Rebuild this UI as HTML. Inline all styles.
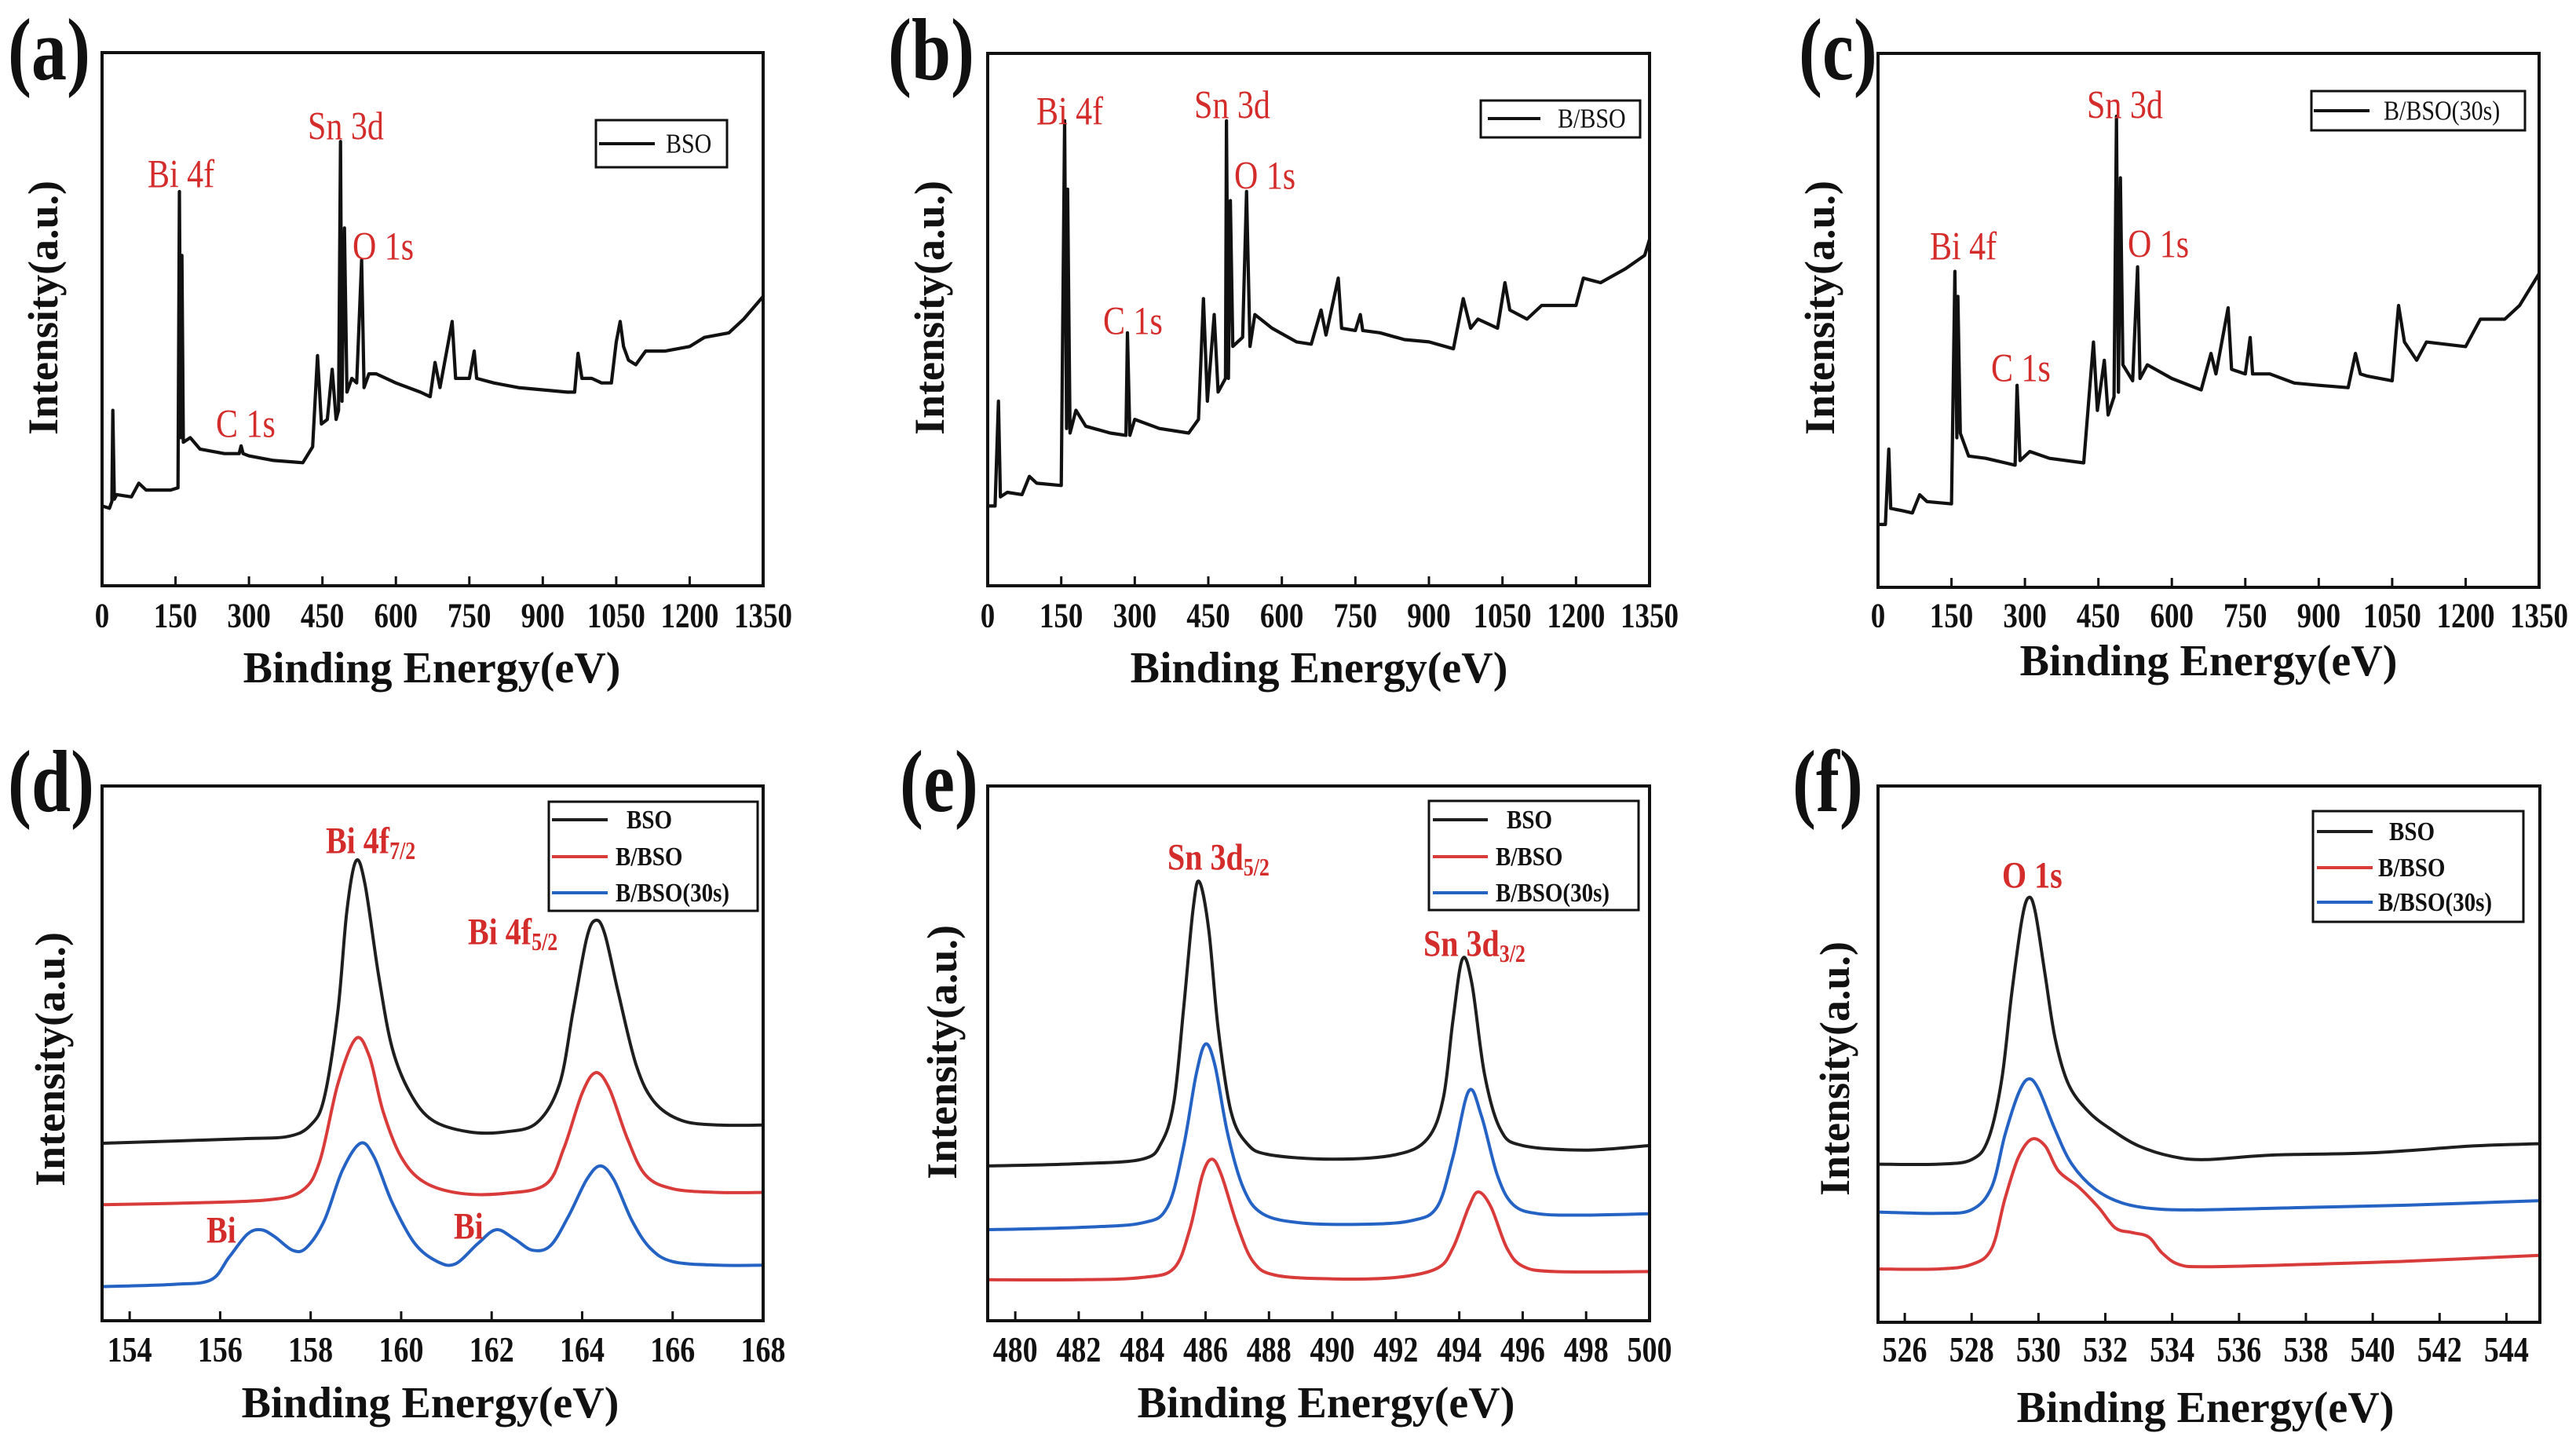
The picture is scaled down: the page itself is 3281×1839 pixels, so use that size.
<!DOCTYPE html>
<html><head><meta charset="utf-8"><style>
html,body{margin:0;padding:0;background:#fff;}
svg{display:block;font-family:"Liberation Serif",serif;}
</style></head><body>
<svg id="fig" width="3281" height="1839" viewBox="0 0 3281 1839" xmlns="http://www.w3.org/2000/svg"></svg>
<script>
// ---- survey data (energy eV, intensity a.u.) ----
const aE=[0,15,20,22,25,30,60,75,90,140,155,158,161,163,166,180,200,250,280,284,288,300,350,410,430,440,448,460,470,478,483,487,490,495,500,510,520,530,535,545,560,600,650,670,680,690,715,722,750,760,765,800,850,900,950,965,972,980,1000,1020,1040,1050,1058,1065,1075,1090,1110,1150,1200,1230,1280,1310,1350];
const aI=[175,170,185,385,190,200,195,225,210,210,215,865,325,725,315,325,300,290,290,307,290,285,275,270,305,505,355,365,475,365,385,975,405,785,425,455,445,715,435,465,465,445,425,415,490,435,580,455,455,515,455,445,435,430,425,425,510,455,455,445,445,535,580,525,495,485,515,515,525,545,555,585,635];
const bE=[0,15,22,26,40,70,85,100,150,157,161,163,168,180,200,250,282,285,290,300,350,410,430,440,448,462,470,485,487,491,495,500,520,528,535,545,580,630,660,680,690,715,722,750,760,765,800,850,900,950,970,985,1000,1040,1055,1065,1100,1130,1200,1215,1250,1300,1340,1350];
const bI=[175,175,405,195,205,200,240,225,220,1020,345,870,335,385,350,335,330,555,330,365,345,335,365,630,405,595,425,455,1020,455,845,525,545,865,525,595,565,535,530,605,550,675,565,560,595,560,555,540,535,520,630,565,585,565,665,605,585,615,615,675,665,695,725,760];
const cE=[0,15,22,26,50,70,85,100,150,157,161,163,168,185,220,260,280,284,290,310,350,420,440,448,462,470,482,487,491,495,500,520,530,535,550,600,660,680,690,715,722,750,760,765,800,850,900,960,975,985,1000,1050,1058,1063,1075,1100,1120,1200,1230,1280,1310,1350];
const cI=[138,138,303,173,168,163,203,188,183,693,328,638,338,288,283,273,268,443,278,298,283,273,538,388,498,378,418,1033,428,898,488,453,703,458,488,458,433,513,468,613,478,468,548,468,468,448,443,438,513,468,463,453,558,618,538,498,538,528,588,588,618,688];
// ---- Bi 4f ----
const dBsoE=[153.4,155,156.5,157.5,158,158.3,158.6,158.8,159.0,159.2,159.5,159.8,160.2,160.7,161.5,162.3,163,163.5,163.8,164.1,164.3,164.5,164.8,165.2,165.6,166.2,167,168];
const dBsoI=[390,395,400,405,430,490,680,900,1010,960,760,600,500,440,415,415,435,520,680,840,880,850,720,560,480,440,430,430];
const dBbsoE=[153.4,155,157,157.8,158.2,158.6,159.0,159.3,159.6,160,160.5,161.3,162.3,163.2,163.6,164,164.3,164.6,165,165.4,166,167,168];
const dBbsoI=[255,258,265,285,350,520,620,580,460,360,305,280,280,300,380,500,545,510,400,320,290,282,282];
const dB30E=[153.4,155,155.8,156.2,156.6,156.9,157.2,157.6,157.9,158.3,158.7,159.1,159.4,159.8,160.3,160.8,161.2,161.7,162.1,162.5,162.9,163.3,163.7,164.1,164.4,164.7,165.1,165.5,166,167,168];
const dB30I=[75,80,90,140,190,200,185,155,160,220,330,390,360,260,170,130,125,170,200,180,155,165,230,310,340,310,220,160,130,122,122];
// ---- Sn 3d ----
const eBsoE=[479.1,482,484,484.6,485.0,485.3,485.6,485.8,486.1,486.4,486.8,487.3,488,490,492,493,493.5,493.8,494.1,494.4,494.8,495.3,496,498,500];
const eBsoI=[340,345,355,390,480,680,900,965,860,640,460,390,365,355,365,400,490,660,795,740,540,420,385,375,385];
const eB30E=[479.1,482,484,484.8,485.3,485.7,486.0,486.3,486.7,487.2,487.8,489,491,492.5,493.3,493.8,494.3,494.7,495.2,495.7,496.5,498,500];
const eB30I=[200,205,215,250,380,540,608,560,410,290,235,215,212,220,250,360,505,450,320,255,235,232,235];
const eBbsoE=[479.1,482,484,485,485.5,485.9,486.2,486.5,487,487.5,488.2,490,492,493.3,493.8,494.3,494.6,495,495.5,496,497,500];
const eBbsoI=[90,90,95,115,200,320,355,320,210,130,100,92,95,115,160,250,283,250,160,120,108,108];
// ---- O 1s ----
const fBsoE=[525.2,527,528,528.5,528.9,529.2,529.5,529.7,529.9,530.2,530.5,530.9,531.5,532.2,533,534,535,537,540,543,545];
const fBsoI=[347,347,357,402,532,722,882,932,902,762,622,522,462,422,387,364,357,367,372,387,392];
const fB30E=[525.2,527,528,528.6,529.0,529.4,529.7,530.0,530.5,531,531.7,532.5,533.5,535,538,541,545];
const fB30I=[242,239,247,297,412,502,534,512,422,347,292,262,249,247,252,257,267];
const fBbsoE=[525.2,527,528,528.6,529.0,529.4,529.8,530.2,530.6,531.2,531.8,532.3,532.8,533.3,533.7,534.2,535,538,541,545];
const fBbsoI=[117,117,127,162,272,362,402,387,332,297,252,207,197,187,152,127,122,127,134,147];
// ---- tick labels ----
const surveyTicks=[0,150,300,450,600,750,900,1050,1200,1350];
const biTicks=[154,156,158,160,162,164,166,168];
const snTicks=[480,482,484,486,488,490,492,494,496,498,500];
const oTicks=[526,528,530,532,534,536,538,540,542,544];

const NS='http://www.w3.org/2000/svg';
const svg=document.getElementById('fig');
const BLACK='#1e1e1e',RED='#d93a3a',BLUE='#2462c4',LRED='#d42b2b';
function mk(tag,parent){const e=document.createElementNS(NS,tag);parent.appendChild(e);return e;}
function txt(parent,x,y,s,size,opts){
  const t=mk('text',parent);
  t.setAttribute('x',x);t.setAttribute('y',y);
  t.setAttribute('font-size',size);
  t.setAttribute('dominant-baseline','central');
  t.setAttribute('text-anchor',opts.anchor||'middle');
  t.setAttribute('fill',opts.fill||'#111');
  if(opts.bold)t.setAttribute('font-weight','bold');
  if(opts.rot)t.setAttribute('transform','rotate(-90 '+x+' '+y+')');
  if(opts.sy)t.setAttribute('transform','translate(0 '+y+') scale(1 '+opts.sy+') translate(0 '+(-y)+')');
  t.textContent=s;return t;
}
function smoothPath(pts){
  let d='M'+pts[0][0].toFixed(1)+' '+pts[0][1].toFixed(1);
  for(let i=0;i<pts.length-1;i++){
    const p0=pts[i-1]||pts[i],p1=pts[i],p2=pts[i+1],p3=pts[i+2]||p2;
    const c1x=p1[0]+(p2[0]-p0[0])/6,c1y=p1[1]+(p2[1]-p0[1])/6;
    const c2x=p2[0]-(p3[0]-p1[0])/6,c2y=p2[1]-(p3[1]-p1[1])/6;
    d+='C'+c1x.toFixed(1)+' '+c1y.toFixed(1)+' '+c2x.toFixed(1)+' '+c2y.toFixed(1)+' '+p2[0].toFixed(1)+' '+p2[1].toFixed(1);
  }
  return d;
}
function panel(p){
  const g=mk('g',svg);
  
  
  const sx=v=>p.L+(v-p.xmin)/(p.xmax-p.xmin)*(p.R-p.L);
  const sy=v=>p.B-v/p.ymax*(p.B-p.T);
  p.series.forEach(s=>{
    const path=mk('path',g);
    
    
    const pts=s.E.map((e,i)=>[sx(e),sy(s.I[i])]);
    let d='';
    if(p.smooth){d=smoothPath(pts);}
    else{pts.forEach((q,i)=>{d+=(i?'L':'M')+q[0].toFixed(1)+' '+q[1].toFixed(1);});}
    path.setAttribute('d',d);path.setAttribute('fill','none');
    path.setAttribute('stroke',s.color);path.setAttribute('stroke-width',p.lw);
    path.setAttribute('stroke-linejoin','round');
  });
  const r=mk('rect',g);
  
  
  r.setAttribute('x',p.L);r.setAttribute('y',p.T);r.setAttribute('width',p.R-p.L);r.setAttribute('height',p.B-p.T);
  r.setAttribute('fill','none');r.setAttribute('stroke','#111');r.setAttribute('stroke-width',4);
  p.ticks.forEach(v=>{
    const x=sx(v);
    const l=mk('line',g);
    
    
    l.setAttribute('x1',x);l.setAttribute('x2',x);l.setAttribute('y1',p.B);l.setAttribute('y2',p.B-12);
    l.setAttribute('stroke','#111');l.setAttribute('stroke-width',3);
    const t=txt(g,x,p.tickY,String(v),p.tickSize,{bold:true,sy:1.2});
    
    
  });
  const xt=txt(g,p.xtX,p.xtY,'Binding Energy(eV)',56,{bold:true});
  
  
  const yt=txt(g,p.ytX,p.ytY,'Intensity(a.u.)',54,{bold:true,rot:true});
  
  
  const pl=txt(g,p.plX,p.plY,'('+p.id+')',90,{bold:true,anchor:'start',sy:1.25});
  
  
  const lg=mk('g',g);
  
  
  const lb=mk('rect',lg);
  lb.setAttribute('x',p.leg.x);lb.setAttribute('y',p.leg.y);lb.setAttribute('width',p.leg.w);lb.setAttribute('height',p.leg.h);
  lb.setAttribute('fill','#fff');lb.setAttribute('stroke','#111');lb.setAttribute('stroke-width',3);
  p.leg.rows.forEach(row=>{
    const ln=mk('line',lg);
    
    
    ln.setAttribute('x1',row.x1);ln.setAttribute('x2',row.x2);ln.setAttribute('y1',row.y);ln.setAttribute('y2',row.y);
    ln.setAttribute('stroke',row.c);ln.setAttribute('stroke-width',4);
    const lt=txt(lg,row.tx,row.y,row.t,p.leg.fs,{anchor:'start',bold:p.leg.bold,sy:1.15});
    
    
  });
  p.labels.forEach(lab=>{
    const t=mk('text',g);
    
    
    t.setAttribute('x',lab.x);t.setAttribute('y',lab.y);
    t.setAttribute('font-size',lab.fs);t.setAttribute('fill',LRED);
    t.setAttribute('dominant-baseline','central');
    if(lab.bold)t.setAttribute('font-weight','bold');
    t.setAttribute('transform','translate(0 '+lab.y+') scale(1 1.2) translate(0 '+(-lab.y)+')');
    const m=mk('tspan',t);m.textContent=lab.t;
    if(lab.sub){const s=mk('tspan',t);s.setAttribute('font-size',lab.fs*0.65);s.setAttribute('dy',12);s.textContent=lab.sub;}
  });
}
const topLeg=(x,y,w,h,lx1,lx2,ty,tx,t)=>({x,y,w,h,fs:30,bold:false,rows:[{x1:lx1,x2:lx2,y:ty,tx,t,c:'#111'}]});
const botLeg=(x,y,w,h,lx1,lx2,ys,tx)=>({x,y,w,h,fs:29,bold:true,rows:[
  {x1:lx1,x2:lx2,y:ys[0],tx:tx+14,t:'BSO',c:BLACK},
  {x1:lx1,x2:lx2,y:ys[1],tx,t:'B/BSO',c:RED},
  {x1:lx1,x2:lx2,y:ys[2],tx,t:'B/BSO(30s)',c:BLUE}]});

panel({id:'a',L:130,R:972,T:67,B:746,xmin:0,xmax:1350,ymax:1170,ticks:surveyTicks,tickY:784,tickSize:37,lw:4.2,
  xtX:550,xtY:851,ytX:55,ytY:392,plX:10,plY:64,
  series:[{name:'bso-survey-line',E:aE,I:aI,color:'#111'}],
  leg:topLeg(759,153,167,60,763,834,183,848,'BSO'),
  labels:[{x:188,y:222,t:'Bi 4f',fs:42},{x:392,y:161,t:'Sn 3d',fs:42},{x:449,y:314,t:'O 1s',fs:42},{x:275,y:540,t:'C 1s',fs:42}]});
panel({id:'b',L:1258,R:2101,T:68,B:746,xmin:0,xmax:1350,ymax:1168,ticks:surveyTicks,tickY:784,tickSize:37,lw:4.2,
  xtX:1680,xtY:851,ytX:1184,ytY:392,plX:1131,plY:64,
  series:[{name:'b-bso-survey-line',E:bE,I:bI,color:'#111'}],
  leg:topLeg(1886,128,203,47,1895,1962,151,1984,'B/BSO'),
  labels:[{x:1320,y:142,t:'Bi 4f',fs:42},{x:1521,y:134,t:'Sn 3d',fs:42},{x:1572,y:224,t:'O 1s',fs:42},{x:1405,y:409,t:'C 1s',fs:42}]});
panel({id:'c',L:2392,R:3234,T:68,B:748,xmin:0,xmax:1350,ymax:1171,ticks:surveyTicks,tickY:784,tickSize:37,lw:4.2,
  xtX:2813,xtY:842,ytX:2318,ytY:392,plX:2291,plY:64,
  series:[{name:'b-bso-30s-survey-line',E:cE,I:cI,color:'#111'}],
  leg:topLeg(2944,116,272,50,2947,3018,141,3036,'B/BSO(30s)'),
  labels:[{x:2658,y:134,t:'Sn 3d',fs:42},{x:2458,y:314,t:'Bi 4f',fs:42},{x:2710,y:311,t:'O 1s',fs:42},{x:2536,y:469,t:'C 1s',fs:42}]});
panel({id:'d',L:130,R:972,T:1001,B:1682,xmin:153.39,xmax:168,ymax:1175,ticks:biTicks,tickY:1720,tickSize:38,lw:4,smooth:true,
  xtX:548,xtY:1787,ytX:64,ytY:1349,plX:10,plY:996,
  series:[{name:'bso-bi4f-line',E:dBsoE,I:dBsoI,color:BLACK},{name:'b-bso-bi4f-line',E:dBbsoE,I:dBbsoI,color:RED},{name:'b-bso-30s-bi4f-line',E:dB30E,I:dB30I,color:BLUE}],
  leg:botLeg(699,1021,266,139,703,774,[1044,1091,1137],784),
  labels:[{x:415,y:1070,t:'Bi 4f',sub:'7/2',fs:40,bold:true},{x:596,y:1186,t:'Bi 4f',sub:'5/2',fs:40,bold:true},{x:263,y:1566,t:'Bi',fs:40,bold:true},{x:578,y:1561,t:'Bi',fs:40,bold:true}]});
panel({id:'e',L:1258,R:2101,T:1001,B:1682,xmin:479.13,xmax:500,ymax:1175,ticks:snTicks,tickY:1720,tickSize:38,lw:4,smooth:true,
  xtX:1689,xtY:1787,ytX:1200,ytY:1340,plX:1146,plY:996,
  series:[{name:'bso-sn3d-line',E:eBsoE,I:eBsoI,color:BLACK},{name:'b-bso-30s-sn3d-line',E:eB30E,I:eB30I,color:BLUE},{name:'b-bso-sn3d-line',E:eBbsoE,I:eBbsoI,color:RED}],
  leg:botLeg(1820,1020,267,139,1825,1895,[1044,1091,1137],1905),
  labels:[{x:1487,y:1091,t:'Sn 3d',sub:'5/2',fs:40,bold:true},{x:1813,y:1201,t:'Sn 3d',sub:'3/2',fs:40,bold:true}]});
panel({id:'f',L:2392,R:3235,T:1001,B:1684,xmin:525.2,xmax:545,ymax:1177,ticks:oTicks,tickY:1720,tickSize:38,lw:4,smooth:true,
  xtX:2809,xtY:1793,ytX:2337,ytY:1361,plX:2283,plY:996,
  series:[{name:'bso-o1s-line',E:fBsoE,I:fBsoI,color:BLACK},{name:'b-bso-30s-o1s-line',E:fB30E,I:fB30I,color:BLUE},{name:'b-bso-o1s-line',E:fBbsoE,I:fBbsoI,color:RED}],
  leg:botLeg(2946,1033,268,141,2951,3022,[1059,1105,1149],3029),
  labels:[{x:2550,y:1114,t:'O 1s',fs:40,bold:true}]});
</script>
</body></html>
